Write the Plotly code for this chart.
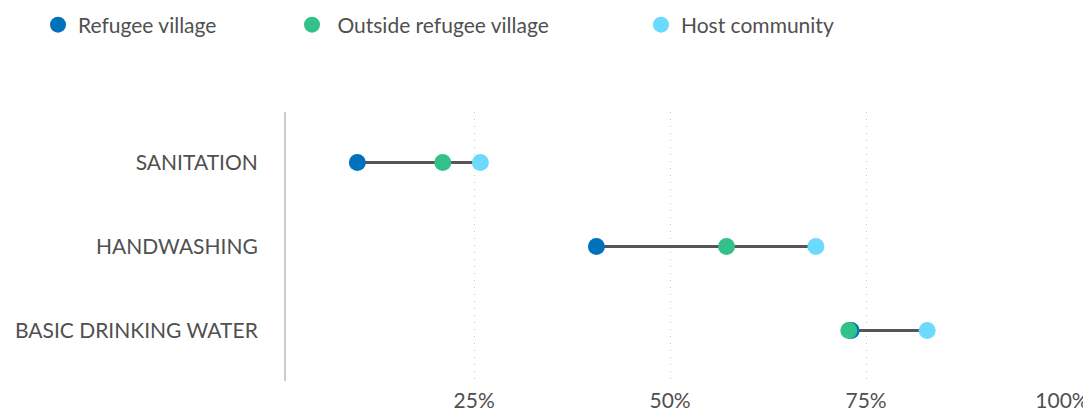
import plotly.graph_objects as go

categories = ["SANITATION", "HANDWASHING", "BASIC DRINKING WATER"]
refugee_village = [10.1, 40.6, 73.1]
outside_refugee_village = [21.0, 57.2, 72.8]
host_community = [25.8, 68.6, 82.8]
series_names = ["Refugee village", " Outside refugee village", "Host community"]
series_colors = ["#0072BC", "#32C189", "#6CD9FF"]
tick_values = [25, 50, 75, 100]
tick_labels = ["25%", "50%", "75%", "100%"]

FONT = "Lato"
TXT = "#505050"
# the page body adds an 8px margin; size the figure to fit the window
W, H = 1083, 403

fig = go.Figure()

# dumbbell connector lines
lx, ly = [], []
for c, a, b, h in zip(categories, refugee_village, outside_refugee_village, host_community):
    lx += [min(a, b, h), max(a, b, h), None]
    ly += [c, c, None]
fig.add_trace(go.Scatter(x=lx, y=ly, mode="lines", line=dict(color="#555555", width=3),
                         showlegend=False, hoverinfo="skip"))

legends = ["legend", "legend2", "legend3"]
for name, vals, col, lg in zip(series_names,
                               [refugee_village, outside_refugee_village, host_community],
                               series_colors, legends):
    fig.add_trace(go.Scatter(x=vals, y=categories, mode="markers", name=name,
                             marker=dict(color=col, size=17, line=dict(width=0)),
                             legend=lg))

leg_common = dict(orientation="h", xref="container", yref="container", yanchor="middle",
                  xanchor="left", font=dict(family=FONT, size=21, color=TXT),
                  bgcolor="rgba(0,0,0,0)", borderwidth=0, itemsizing="trace")
leg_y = 1 - 17 / H

fig.update_layout(
    width=W, height=H,
    margin=dict(l=278, r=29, t=104, b=30, autoexpand=False),
    paper_bgcolor="white", plot_bgcolor="white",
    font=dict(family=FONT, color=TXT),
    legend=dict(x=30 / W, y=leg_y, **leg_common),
    legend2=dict(x=284 / W, y=leg_y, **leg_common),
    legend3=dict(x=633 / W, y=leg_y, **leg_common),
    xaxis=dict(range=[1, 100], tickvals=tick_values, ticktext=tick_labels,
               showgrid=True, gridcolor="#c8c8c8", griddash="1px,6px", gridwidth=1,
               zeroline=False, showline=False, ticks="", automargin=False,
               ticklabelstandoff=5,
               tickfont=dict(family=FONT, size=21, color=TXT)),
    yaxis=dict(categoryorder="array", categoryarray=categories,
               range=[2.6, -0.6], showgrid=False, zeroline=False, automargin=False,
               showline=True, linecolor="#cccccc", linewidth=2, ticks="",
               ticklabelstandoff=22,
               tickfont=dict(family=FONT, size=21, color=TXT)),
)

fig.write_html("out.html")
